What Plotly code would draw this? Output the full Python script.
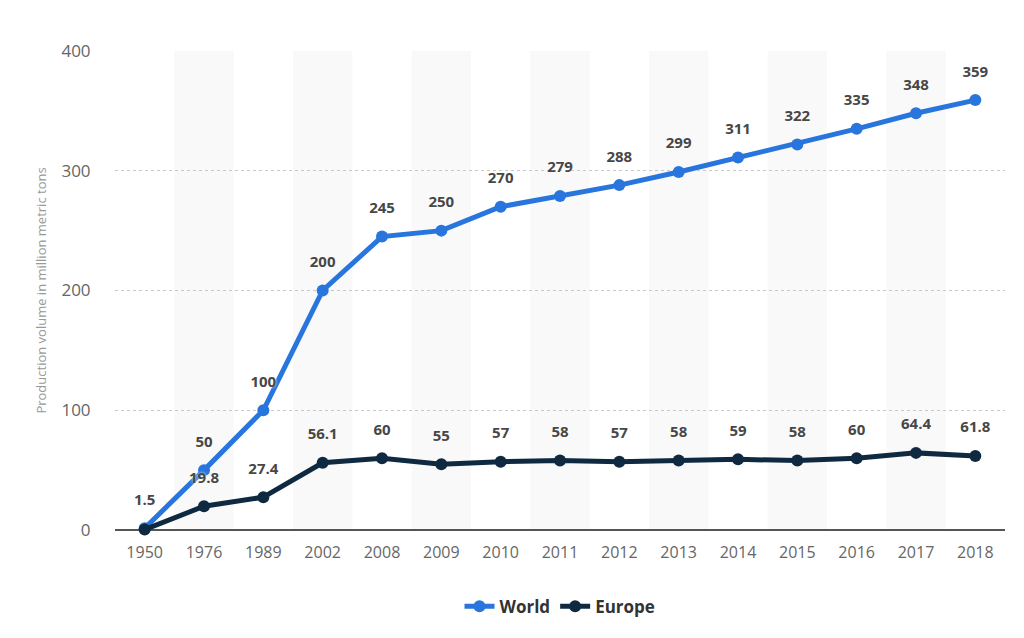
import plotly.graph_objects as go

years = ["1950", "1976", "1989", "2002", "2008", "2009", "2010", "2011",
         "2012", "2013", "2014", "2015", "2016", "2017", "2018"]
world = [1.5, 50, 100, 200, 245, 250, 270, 279, 288, 299, 311, 322, 335, 348, 359]
europe = [0.35, 19.8, 27.4, 56.1, 60, 55, 57, 58, 57, 58, 59, 58, 60, 64.4, 61.8]
europe_labels = ["", "19.8", "27.4", "56.1", "60", "55", "57", "58", "57",
                 "58", "59", "58", "60", "64.4", "61.8"]
world_labels = [f"{v:g}" for v in world]

label_font = dict(family="Open Sans", size=15, color="#474747", weight="bold",
                  shadow="0px 0px 3px white")

fig = go.Figure()
fig.add_trace(go.Scatter(
    x=years, y=world, name="World", mode="lines+markers",
    line=dict(color="#2876dd", width=5), marker=dict(size=12),
    cliponaxis=False,
))
fig.add_trace(go.Scatter(
    x=years, y=europe, name="Europe", mode="lines+markers",
    line=dict(color="#0f2a40", width=5), marker=dict(size=12),
    cliponaxis=False,
))

# value labels: text-only traces, a big invisible marker pushes text up
for ys, labels in [(world, world_labels), (europe, europe_labels)]:
    fig.add_trace(go.Scatter(
        x=years, y=ys, mode="text+markers", text=labels,
        textposition="top center", textfont=label_font,
        marker=dict(size=30, color="rgba(0,0,0,0)"),
        showlegend=False, hoverinfo="skip", cliponaxis=False,
    ))

# alternating background bands
shapes = []
for i in range(1, len(years), 2):
    shapes.append(dict(type="rect", xref="x", yref="paper",
                       x0=i - 0.5, x1=i + 0.5, y0=0, y1=1,
                       fillcolor="#f9f9f9", line_width=0, layer="below"))

fig.update_layout(
    width=1016, height=630,
    margin=dict(l=107, r=19, t=43, b=108, autoexpand=False),
    paper_bgcolor="white", plot_bgcolor="white",
    font=dict(family="Open Sans", color="#666666"),
    shapes=shapes,
    showlegend=True,
    legend=dict(orientation="h", x=0.5, xanchor="center", y=-0.16,
                yanchor="middle",
                font=dict(size=17, color="#333333", weight="bold")),
    xaxis=dict(type="category", showgrid=False, automargin=False,
               ticks="outside", ticklen=8, tickcolor="rgba(0,0,0,0)",
               tickfont=dict(size=16, color="#666666"),
               range=[-0.5, len(years) - 0.5]),
    yaxis=dict(range=[0, 400], dtick=100, showgrid=True, automargin=False,
               gridcolor="#c8c8c8", griddash="dot", gridwidth=1,
               zeroline=True, zerolinecolor="#555555", zerolinewidth=2,
               ticks="outside", ticklen=20, tickcolor="rgba(0,0,0,0)",
               tickfont=dict(size=17, color="#666666"),
               title=dict(text="Production volume in million metric tons",
                          font=dict(size=13, color="#999999"), standoff=11)),
)

fig.write_html("out.html")
